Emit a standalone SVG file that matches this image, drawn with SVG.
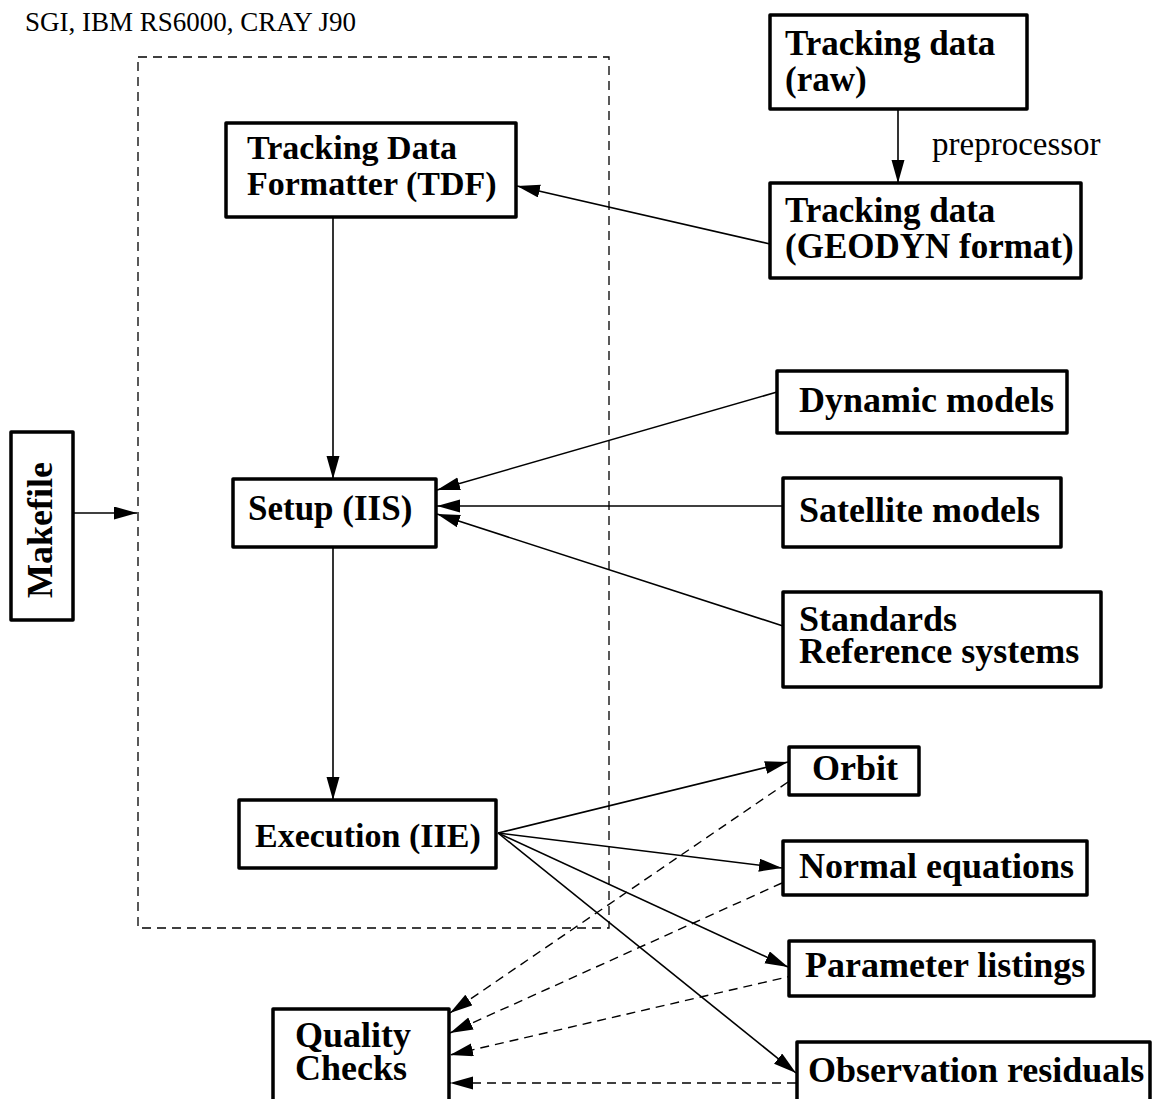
<svg xmlns="http://www.w3.org/2000/svg" width="1152" height="1099" viewBox="0 0 1152 1099">
  <style>
    .box { fill: #fff; stroke: #000; stroke-width: 3.5; stroke-linejoin: round; }
    .lbl { font-family: "Liberation Serif", "Times New Roman", serif; font-weight: bold; font-size: 35px; fill: #000; }
    .big { font-size: 36px; }
    .sm { font-size: 34px; }
    .plain { font-family: "Liberation Serif", "Times New Roman", serif; font-weight: normal; fill: #000; }
    .edge { fill: none; stroke: #000; stroke-width: 1.6; }
    .dash { fill: none; stroke: #000; stroke-width: 1.4; stroke-dasharray: 9 6; }
    .frame { fill: none; stroke: #000; stroke-width: 1.3; stroke-dasharray: 9 6; }
  </style>
  <defs>
    <marker id="ah" markerUnits="userSpaceOnUse" markerWidth="24" markerHeight="14" refX="23" refY="6.5" orient="auto">
      <path d="M0,0 L23,6.5 L0,13 z" fill="#000"/>
    </marker>
  </defs>

  <rect width="1152" height="1099" fill="#fff"/>

  <!-- platform caption and process frame -->
  <text class="plain" x="25" y="31" font-size="27">SGI, IBM RS6000, CRAY J90</text>
  <rect class="frame" x="138" y="57" width="471" height="871"/>

  <!-- connectors -->
  <g id="connectors">
    <line class="edge" x1="898" y1="109" x2="898" y2="183" marker-end="url(#ah)"/>
    <text class="plain" x="932" y="155" font-size="33">preprocessor</text>
    <line class="edge" x1="770" y1="244" x2="517" y2="186" marker-end="url(#ah)"/>
    <line class="edge" x1="333" y1="217" x2="333" y2="479" marker-end="url(#ah)"/>
    <line class="edge" x1="73" y1="513" x2="137" y2="513" marker-end="url(#ah)"/>
    <line class="edge" x1="777" y1="392" x2="437" y2="490" marker-end="url(#ah)"/>
    <line class="edge" x1="783" y1="506" x2="437" y2="506" marker-end="url(#ah)"/>
    <line class="edge" x1="783" y1="626" x2="437" y2="514" marker-end="url(#ah)"/>
    <line class="edge" x1="333" y1="547" x2="333" y2="800" marker-end="url(#ah)"/>
    <line class="edge" x1="498" y1="833" x2="788" y2="762" marker-end="url(#ah)"/>
    <line class="edge" x1="498" y1="833" x2="782" y2="868" marker-end="url(#ah)"/>
    <line class="edge" x1="498" y1="833" x2="788" y2="967" marker-end="url(#ah)"/>
    <line class="edge" x1="498" y1="833" x2="796" y2="1073" marker-end="url(#ah)"/>
    <line class="dash" x1="788" y1="782" x2="450" y2="1013" marker-end="url(#ah)"/>
    <line class="dash" x1="782" y1="883" x2="450" y2="1033" marker-end="url(#ah)"/>
    <line class="dash" x1="796" y1="975" x2="450" y2="1055" marker-end="url(#ah)"/>
    <line class="dash" x1="796" y1="1083" x2="450" y2="1083" marker-end="url(#ah)"/>
  </g>

  <g id="tdf">
    <rect class="box" x="226" y="123" width="290" height="94"/>
    <text class="lbl sm" x="247" y="159">Tracking Data</text>
    <text class="lbl sm" x="247" y="195">Formatter (TDF)</text>
  </g>
  <g id="raw">
    <rect class="box" x="770" y="15" width="257" height="94"/>
    <text class="lbl" x="785" y="55">Tracking data</text>
    <text class="lbl" x="785" y="91">(raw)</text>
  </g>
  <g id="geodyn">
    <rect class="box" x="770" y="183" width="311" height="95"/>
    <text class="lbl" x="785" y="222">Tracking data</text>
    <text class="lbl" x="785" y="258">(GEODYN format)</text>
  </g>
  <g id="makefile">
    <rect class="box" x="11" y="432" width="62" height="188"/>
    <text class="lbl big" transform="translate(52,530) rotate(-90)" text-anchor="middle">Makefile</text>
  </g>
  <g id="setup">
    <rect class="box" x="233" y="479" width="203" height="68"/>
    <text class="lbl" x="248" y="520">Setup (IIS)</text>
  </g>
  <g id="dynamic">
    <rect class="box" x="777" y="371" width="290" height="62"/>
    <text class="lbl big" x="799" y="412">Dynamic models</text>
  </g>
  <g id="satellite">
    <rect class="box" x="783" y="478" width="278" height="69"/>
    <text class="lbl big" x="799" y="522">Satellite models</text>
  </g>
  <g id="standards">
    <rect class="box" x="783" y="592" width="318" height="95"/>
    <text class="lbl big" x="799" y="631">Standards</text>
    <text class="lbl big" x="799" y="663">Reference systems</text>
  </g>
  <g id="execution">
    <rect class="box" x="239" y="800" width="257" height="68"/>
    <text class="lbl sm" x="255" y="847">Execution (IIE)</text>
  </g>
  <g id="orbit">
    <rect class="box" x="789" y="747" width="130" height="48"/>
    <text class="lbl big" x="812" y="780">Orbit</text>
  </g>
  <g id="normal">
    <rect class="box" x="783" y="841" width="304" height="54"/>
    <text class="lbl big" x="799" y="878">Normal equations</text>
  </g>
  <g id="params">
    <rect class="box" x="789" y="941" width="305" height="55"/>
    <text class="lbl big" x="805" y="977">Parameter listings</text>
  </g>
  <g id="residuals">
    <rect class="box" x="797" y="1042" width="353" height="70"/>
    <text class="lbl big" x="808" y="1082">Observation residuals</text>
  </g>
  <g id="quality">
    <rect class="box" x="273" y="1009" width="176" height="100"/>
    <text class="lbl big" x="295" y="1047">Quality</text>
    <text class="lbl big" x="295" y="1080">Checks</text>
  </g>
</svg>
